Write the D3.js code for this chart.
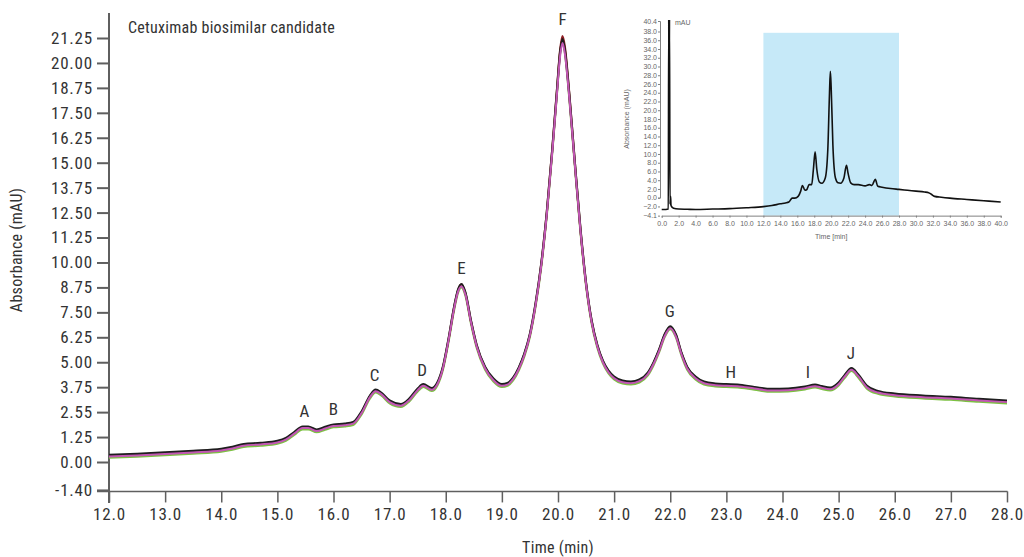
<!DOCTYPE html>
<html>
<head>
<meta charset="utf-8">
<script src="https://cdn.jsdelivr.net/npm/d3@7"></script>
<style>
  html, body { margin: 0; padding: 0; background: #fff; }
  svg { display: block; }
  text { font-family: "Liberation Sans Narrow", "Arial Narrow", "Roboto Condensed", sans-serif; }
</style>
</head>
<body>
<svg id="chart" width="1024" height="557"></svg>
<script>
// ---------------- DATA ----------------
const time = [12.0,12.5,13.0,13.5,14.0,14.2,14.4,14.7,15.0,15.15,15.3,15.45,15.55,15.7,15.85,16.0,16.2,16.35,16.5,16.65,16.75,16.85,17.0,17.2,17.35,17.5,17.6,17.75,17.85,17.95,18.05,18.15,18.22,18.28,18.35,18.45,18.55,18.7,18.85,19.0,19.1,19.2,19.3,19.4,19.5,19.6,19.7,19.8,19.9,19.98,20.04,20.08,20.12,20.2,20.3,20.4,20.5,20.6,20.7,20.8,20.9,21.0,21.15,21.3,21.45,21.6,21.7,21.8,21.9,22.0,22.1,22.2,22.3,22.45,22.6,22.8,23.0,23.2,23.5,23.8,24.1,24.4,24.58,24.7,24.85,25.0,25.1,25.23,25.35,25.5,25.7,26.0,26.5,27.0,27.5,28.0];

const traceGreen = [0.22,0.27,0.34,0.42,0.52,0.62,0.76,0.82,0.92,1.06,1.36,1.64,1.64,1.49,1.62,1.74,1.78,1.86,2.39,3.19,3.49,3.34,2.94,2.76,3.04,3.54,3.76,3.56,3.84,4.64,6.04,7.64,8.50,8.75,8.35,6.94,5.74,4.64,4.04,3.76,3.82,4.09,4.59,5.29,6.29,7.80,9.76,12.36,15.60,18.45,20.55,21.10,20.60,18.28,14.85,11.55,8.84,6.94,5.74,4.94,4.44,4.14,3.94,3.89,3.99,4.34,4.84,5.49,6.26,6.66,6.26,5.34,4.64,4.14,3.89,3.79,3.76,3.74,3.62,3.52,3.54,3.64,3.74,3.66,3.59,3.84,4.19,4.56,4.24,3.69,3.42,3.29,3.19,3.12,3.02,2.94];

const traceDarkRed = [0.32,0.37,0.44,0.52,0.62,0.72,0.86,0.92,1.02,1.16,1.46,1.74,1.74,1.59,1.72,1.84,1.88,1.96,2.49,3.29,3.59,3.44,3.04,2.86,3.14,3.64,3.86,3.66,3.94,4.74,6.14,7.76,8.62,8.90,8.46,7.04,5.84,4.74,4.14,3.86,3.92,4.19,4.69,5.39,6.39,7.90,9.88,12.50,15.75,18.60,20.70,21.35,20.85,18.50,15.00,11.65,8.94,7.04,5.84,5.04,4.54,4.24,4.04,3.99,4.09,4.44,4.94,5.59,6.36,6.76,6.36,5.44,4.74,4.24,3.99,3.89,3.86,3.84,3.72,3.62,3.64,3.74,3.84,3.76,3.69,3.94,4.29,4.66,4.34,3.79,3.52,3.39,3.29,3.22,3.12,3.04];

const traceBlack = [0.36,0.41,0.48,0.56,0.66,0.76,0.90,0.96,1.06,1.20,1.50,1.78,1.78,1.63,1.76,1.88,1.92,2.00,2.53,3.33,3.63,3.48,3.08,2.90,3.18,3.68,3.90,3.70,3.98,4.78,6.18,7.80,8.65,8.92,8.50,7.08,5.88,4.78,4.18,3.90,3.96,4.23,4.73,5.43,6.43,7.95,9.90,12.50,15.72,18.55,20.60,21.20,20.70,18.45,15.00,11.70,8.98,7.08,5.88,5.08,4.58,4.28,4.08,4.03,4.13,4.48,4.98,5.63,6.40,6.80,6.40,5.48,4.78,4.28,4.03,3.93,3.90,3.88,3.76,3.66,3.68,3.78,3.88,3.80,3.73,3.98,4.33,4.70,4.38,3.83,3.56,3.43,3.33,3.26,3.16,3.08];

const traceMagenta = [0.28,0.33,0.40,0.48,0.58,0.68,0.82,0.88,0.98,1.12,1.42,1.70,1.70,1.55,1.68,1.80,1.84,1.92,2.45,3.25,3.55,3.40,3.00,2.82,3.10,3.60,3.82,3.62,3.90,4.70,6.10,7.70,8.55,8.80,8.40,7.00,5.80,4.70,4.10,3.82,3.88,4.15,4.65,5.35,6.35,7.85,9.80,12.40,15.60,18.40,20.40,21.00,20.50,18.30,14.90,11.60,8.90,7.00,5.80,5.00,4.50,4.20,4.00,3.95,4.05,4.40,4.90,5.55,6.30,6.70,6.30,5.40,4.70,4.20,3.95,3.85,3.82,3.80,3.68,3.58,3.60,3.70,3.80,3.72,3.65,3.90,4.25,4.62,4.30,3.75,3.48,3.35,3.25,3.18,3.08,3.00];

const seriesNames = ["green", "darkred", "black", "magenta"];
const seriesColors = ["#7cc143", "#8e1c22", "#1e1e1e", "#c257b4"];

const peakLabels = ["A","B","C","D","E","F","G","H","I","J"];
const peakTimes  = [15.48, 16.0, 16.73, 17.58, 18.28, 20.08, 21.99, 23.08, 24.45, 25.22];
const peakLabelValues = [2.25, 2.35, 4.05, 4.30, 9.40, 21.90, 7.25, 4.20, 4.20, 5.15];

const xTicks = [12,13,14,15,16,17,18,19,20,21,22,23,24,25,26,27,28];
const xTickLabels = ["12.0","13.0","14.0","15.0","16.0","17.0","18.0","19.0","20.0","21.0","22.0","23.0","24.0","25.0","26.0","27.0","28.0"];
const yTicks = [-1.4,0,1.25,2.5,3.75,5,6.25,7.5,8.75,10,11.25,12.5,13.75,15,16.25,17.5,18.75,20,21.25];
const yTickLabels = ["-1.40","0.00","1.25","2.55","3.75","5.00","6.25","7.50","8.75","10.00","11.25","12.50","13.75","15.00","16.25","17.50","18.75","20.00","21.25"];

// inset (full run) data
const insetTime  = [0.0,0.5,0.78,0.83,0.87,0.92,0.98,1.05,1.1,1.4,2.0,3.0,4.0,6.0,8.0,10.0,12.0,13.0,14.0,14.6,15.0,15.4,15.7,16.1,16.4,16.6,16.9,17.1,17.4,17.7,17.9,18.1,18.3,18.6,18.9,19.3,19.6,19.8,19.9,20.0,20.2,20.5,20.8,21.1,21.5,21.8,22.0,22.3,22.7,23.2,24.0,24.5,24.8,25.2,25.5,26.0,27.0,28.0,29.0,30.0,31.0,31.5,31.8,32.2,33.0,34.0,36.0,38.0,40.0];
const insetValue = [-2.7,-2.7,-2.6,41,11,41,-1.5,0.3,-1.8,-2.4,-2.6,-2.65,-2.7,-2.6,-2.5,-2.3,-2.05,-1.8,-1.4,-1.2,-1.0,-0.1,-0.1,0.3,1.5,2.8,1.7,1.8,3.0,3.0,6.5,10.5,6.5,3.6,3.3,4.5,11,24,28.9,25,12,4.5,3.4,3.3,4.5,7.4,5.5,3.4,3.0,3.0,2.7,3.0,2.8,4.2,2.6,2.4,2.1,1.9,1.7,1.5,1.3,1.15,0.8,0.3,0.1,-0.1,-0.4,-0.7,-1.0];
const insetXTicks = [0,2,4,6,8,10,12,14,16,18,20,22,24,26,28,30,32,34,36,38,40];
const insetYTicks = [-4.1,-2,0,2,4,6,8,10,12,14,16,18,20,22,24,26,28,30,32,34,36,38,40.4];
const insetHighlight = [12, 28, 37.7];

// ---------------- CHART ----------------
const svg = d3.select("#chart");

const x = d3.scaleLinear().domain([12, 28]).range([109, 1007]);
const y = d3.scaleLinear().domain([0, 21.25]).range([462, 38]);
const axisColor = "#5f5f5f";
const textColor = "#333";

// y axis
const yAxis = d3.axisLeft(y).tickValues(yTicks).tickSize(12).tickPadding(4)
  .tickFormat((d, i) => yTickLabels[i]);
const gy = svg.append("g").attr("transform", "translate(109,0)").call(yAxis);
gy.select(".domain").remove();
gy.selectAll(".tick line").attr("stroke", axisColor).attr("stroke-width", 2);
gy.selectAll(".tick text").attr("fill", textColor).style("font-size", "17px").style("letter-spacing", "0.8px");
svg.append("line").attr("x1", 109).attr("x2", 109).attr("y1", 13).attr("y2", 503)
  .attr("stroke", axisColor).attr("stroke-width", 2);

// x axis
const xAxis = d3.axisBottom(x).tickValues(xTicks).tickSize(11).tickPadding(6)
  .tickFormat((d, i) => xTickLabels[i]);
const gx = svg.append("g").attr("transform", `translate(0,${y(-1.4) + 1.5})`).call(xAxis);
gx.select(".domain").remove();
gx.selectAll(".tick line").attr("stroke", axisColor).attr("stroke-width", 1.5);
gx.selectAll(".tick text").attr("fill", textColor).style("font-size", "17px").style("letter-spacing", "0.8px");
svg.append("line").attr("x1", 97).attr("x2", 1007.5).attr("y1", y(-1.4) + 1.5).attr("y2", y(-1.4) + 1.5)
  .attr("stroke", axisColor).attr("stroke-width", 1.5);

// axis titles
svg.append("text").attr("x", 558).attr("y", 553).attr("text-anchor", "middle")
  .attr("fill", textColor).style("font-size", "16px").style("letter-spacing", "0.3px").text("Time (min)");
svg.append("text").attr("transform", "translate(22,250) rotate(-90)").attr("text-anchor", "middle")
  .attr("fill", textColor).style("font-size", "16px").style("letter-spacing", "0.3px").text("Absorbance (mAU)");

// chart title
svg.append("text").attr("x", 128).attr("y", 33).attr("fill", textColor)
  .style("font-size", "16px").style("letter-spacing", "0.25px").text("Cetuximab biosimilar candidate");

// traces
const traces = [traceGreen, traceDarkRed, traceBlack, traceMagenta];
const line = d3.line().x(d => x(d[0])).y(d => y(d[1])).curve(d3.curveMonotoneX);
traces.forEach((vals, k) => {
  const pts = time.map((t, i) => [t, vals[i]]).filter(p => p[1] != null);
  svg.append("path").datum(pts).attr("d", line)
    .attr("fill", "none").attr("stroke", seriesColors[k])
    .attr("stroke-width", k === 3 ? 2 : 2.2).attr("stroke-linejoin", "round");
});

// peak labels
svg.selectAll(".peak").data(peakLabels).enter().append("text")
  .attr("x", (d, i) => x(peakTimes[i])).attr("y", (d, i) => y(peakLabelValues[i]))
  .attr("text-anchor", "middle").attr("fill", textColor).style("font-size", "17px")
  .text(d => d);

// ---------------- INSET ----------------
const ix = d3.scaleLinear().domain([0, 40]).range([661.7, 1000.7]);
const iy = d3.scaleLinear().domain([0, 40.4]).range([197.7, 21]);
const insetGray = "#808080";

svg.append("rect")
  .attr("x", ix(insetHighlight[0])).attr("width", ix(insetHighlight[1]) - ix(insetHighlight[0]))
  .attr("y", iy(insetHighlight[2])).attr("height", iy(-4.1) - iy(insetHighlight[2]))
  .attr("fill", "#c6e9f8");

const iyAxis = d3.axisLeft(iy).tickValues(insetYTicks).tickSize(2).tickPadding(1)
  .tickFormat(d3.format(".1f"));
const giy = svg.append("g").attr("transform", "translate(660,0)").call(iyAxis);
giy.select(".domain").attr("stroke", insetGray);
giy.selectAll(".tick line").attr("stroke", insetGray);
giy.selectAll(".tick text").attr("fill", "#666").style("font-size", "7px")
  .style("font-family", "'Liberation Sans', Arial, sans-serif");

const ixAxis = d3.axisBottom(ix).tickValues(insetXTicks).tickSize(2).tickPadding(3)
  .tickFormat(d3.format(".1f"));
const gix = svg.append("g").attr("transform", `translate(0,${iy(-4.1)})`).call(ixAxis);
gix.select(".domain").attr("stroke", insetGray);
gix.selectAll(".tick line").attr("stroke", insetGray);
gix.selectAll(".tick text").attr("fill", "#666").style("font-size", "7px")
  .style("font-family", "'Liberation Sans', Arial, sans-serif");

svg.append("defs").append("clipPath").attr("id", "insetClip").append("rect")
  .attr("x", 660).attr("y", 20).attr("width", 345).attr("height", 200);
const iline = d3.line().x(d => ix(d[0])).y(d => iy(d[1])).curve(d3.curveMonotoneX);
svg.append("path").datum(insetTime.map((t, i) => [t, insetValue[i]]))
  .attr("clip-path", "url(#insetClip)")
  .attr("d", iline).attr("fill", "none").attr("stroke", "#111").attr("stroke-width", 1.6);

svg.append("text").attr("x", 675).attr("y", 25).attr("fill", "#666")
  .style("font-size", "7px").style("font-family", "'Liberation Sans', Arial, sans-serif").text("mAU");
svg.append("text").attr("x", ix(20)).attr("y", 239).attr("text-anchor", "middle").attr("fill", "#666")
  .style("font-size", "7px").style("font-family", "'Liberation Sans', Arial, sans-serif").text("Time [min]");
svg.append("text").attr("transform", `translate(629,${iy(18)}) rotate(-90)`).attr("text-anchor", "middle")
  .attr("fill", "#666").style("font-size", "7px").style("font-family", "'Liberation Sans', Arial, sans-serif")
  .text("Absorbance (mAU)");
</script>
</body>
</html>
